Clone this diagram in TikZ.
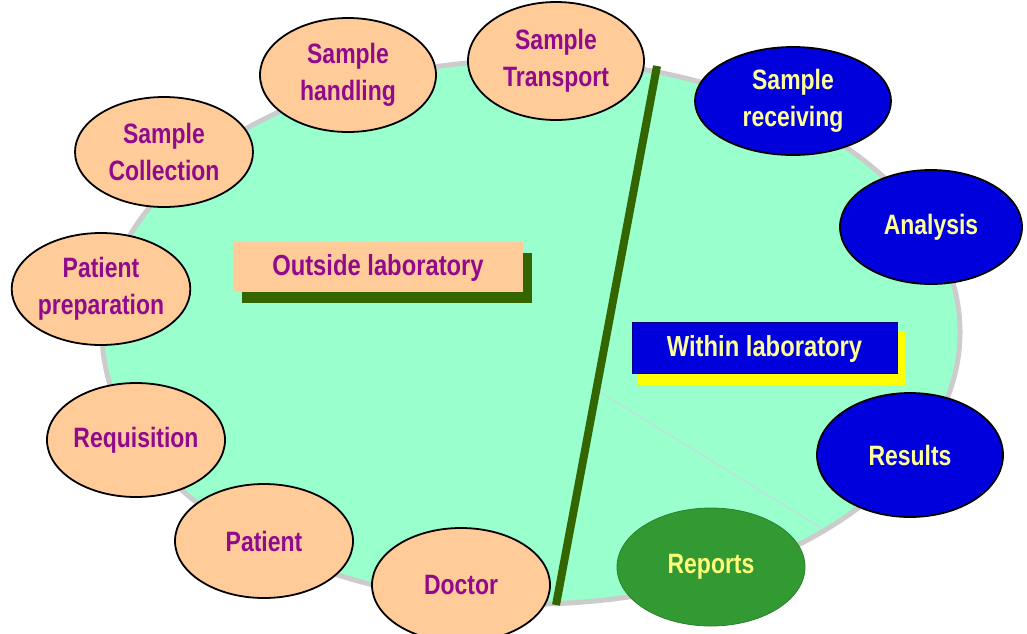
\documentclass[tikz,border=0pt]{standalone}
\usepackage{fontspec}
\setmainfont{Liberation Sans}[FakeStretch=0.82]
\usetikzlibrary{shapes.geometric}
\definecolor{bigfill}{RGB}{153,255,204}
\definecolor{bigedge}{RGB}{204,204,204}
\definecolor{peach}{RGB}{255,204,153}
\definecolor{purp}{RGB}{145,10,140}
\definecolor{labblue}{RGB}{0,0,220}
\definecolor{paleyel}{RGB}{255,255,153}
\definecolor{repgreen}{RGB}{51,153,51}
\definecolor{darkline}{RGB}{51,102,0}
\definecolor{thinline}{RGB}{190,225,220}
\definecolor{shadyel}{RGB}{255,255,0}
\tikzset{
  lbl/.style={font=\bfseries\fontsize{28}{37}\selectfont, align=center},
  outer/.style={ellipse, draw=black, line width=1.8pt, fill=peach, text=purp, inner sep=0pt, lbl},
  inner/.style={ellipse, draw=black, line width=1.8pt, fill=labblue, text=paleyel, inner sep=0pt, lbl},
  report/.style={ellipse, draw=repgreen!85!black, line width=0.8pt, fill=repgreen, text=paleyel!80!yellow, inner sep=0pt, lbl},
  boxlbl/.style={font=\bfseries\fontsize{29}{34}\selectfont, inner sep=0pt}
}
\begin{document}
\begin{tikzpicture}[x=1pt,y=-1pt]
\useasboundingbox (0,0) rectangle (1027,633);
% big background ellipse
\node[ellipse, draw=bigedge, line width=5pt, fill=bigfill, minimum width=858pt, minimum height=544pt, inner sep=0pt] (big) at (531,332) {};
% thin radial line
\coordinate (t1) at (598,391);
\coordinate (t2) at (823,529);
\draw[thinline, line width=1.4pt] (t1) -- (t2);
% dividing line
\coordinate (d1) at (657,66);
\coordinate (d2) at (556,605);
\draw[darkline, line width=8pt] (d1) -- (d2);
% outside laboratory box
\fill[darkline] (242,253) rectangle (532,303);
\node[fill=peach, minimum width=290pt, minimum height=50pt, inner sep=0pt] (outbox) at (378,267) {};
\node[boxlbl, text=purp] (outlbl) at (378,268) {Outside laboratory};
% within laboratory box
\fill[shadyel] (638,332) rectangle (905,385);
\node[fill=labblue, draw=blue!50!black, line width=0.8pt, minimum width=265pt, minimum height=51pt, inner sep=0pt] (inbox) at (764.5,347.5) {};
\node[boxlbl, text=paleyel] (inlbl) at (764.5,348.5) {Within laboratory};
% outside ellipses
\node[outer, minimum width=176pt, minimum height=114pt] (handling) at (348,75) {Sample\\handling};
\node[outer, minimum width=178pt, minimum height=110pt] (collection) at (164,152) {Sample\\Collection};
\node[outer, minimum width=178pt, minimum height=112pt] (prep) at (101,289) {Patient\\preparation};
\node[outer, minimum width=178pt, minimum height=114pt] (req) at (136,440) {Requisition};
\node[outer, minimum width=178pt, minimum height=114pt] (patient) at (264,541) {Patient};
\node[outer, minimum width=178pt, minimum height=114pt] (doctor) at (461,585) {Doctor};
\node[outer, minimum width=176pt, minimum height=118pt] (transport) at (556,61) {Sample\\Transport};
% within ellipses
\node[inner, minimum width=196pt, minimum height=108pt] (receiving) at (793,101) {Sample\\receiving};
\node[inner, minimum width=182pt, minimum height=114pt] (analysis) at (931,227) {Analysis};
\node[inner, minimum width=186pt, minimum height=124pt] (results) at (910,455) {Results};
\node[report, minimum width=188pt, minimum height=118pt] (reports) at (711,567) {Reports};
\end{tikzpicture}
\end{document}
